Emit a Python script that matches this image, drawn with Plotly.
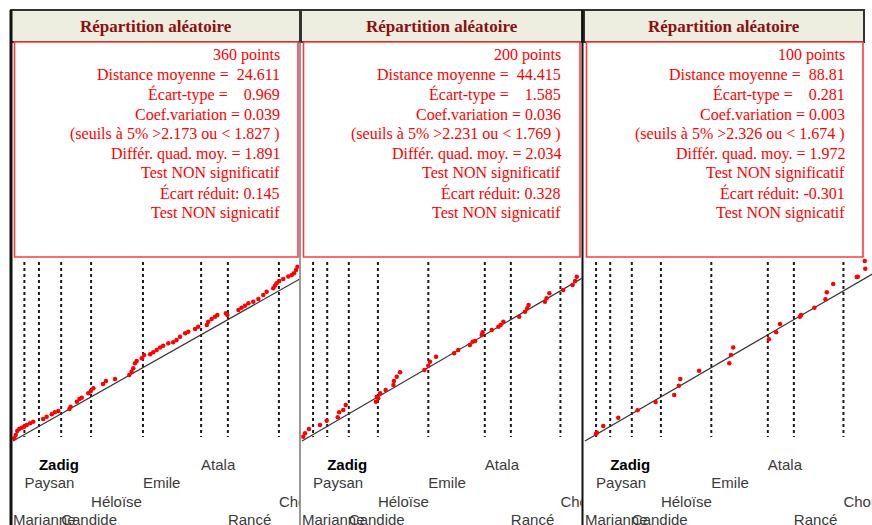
import plotly.graph_objects as go

# ---------------- data ----------------
TEXT_NAMES = ["Marianne", "Paysan", "Zadig", "Candide", "Héloïse", "Emile", "Atala", "Rancé", "Chouans"]
TEXT_STARTS = [0.0, 4.0, 9.1, 16.9, 27.4, 45.6, 66.0, 75.4, 93.3]   # % of corpus
TEXT_ROWS = [4, 2, 1, 4, 3, 2, 1, 4, 3]
TEXT_BOLD = [False, False, True, False, False, False, False, False, False]

TITLE = "Répartition aléatoire"

STATS_1 = ["360 points", "Distance moyenne =  24.611", "Écart-type =    0.969",
           "Coef.variation = 0.039", "(seuils à 5% >2.173 ou < 1.827 )",
           "Différ. quad. moy. = 1.891", "Test NON significatif",
           "Écart réduit: 0.145", "Test NON signicatif"]
STATS_2 = ["200 points", "Distance moyenne =  44.415", "Écart-type =    1.585",
           "Coef.variation = 0.036", "(seuils à 5% >2.231 ou < 1.769 )",
           "Différ. quad. moy. = 2.034", "Test NON significatif",
           "Écart réduit: 0.328", "Test NON signicatif"]
STATS_3 = ["100 points", "Distance moyenne =  88.81", "Écart-type =    0.281",
           "Coef.variation = 0.003", "(seuils à 5% >2.326 ou < 1.674 )",
           "Différ. quad. moy. = 1.972", "Test NON significatif",
           "Écart réduit: -0.301", "Test NON signicatif"]

# points: x = position in corpus (%), y = cumulated rank (%)
PTS1_X = [0.46, 0.95, 1.5, 2.2, 3.1, 3.9, 4.8, 6.0, 7.1, 10.6, 11.8, 13.6, 14.7, 15.9,
          19.8, 20.2, 22.4, 23.3, 24.1, 26.4, 27.3, 28.2, 31.6, 32.6, 35.8, 40.8, 41.6,
          42.2, 42.8, 43.4, 45.2, 46.0, 48.1, 49.2, 50.4, 51.6, 52.7, 54.5, 56.2, 57.4,
          58.6, 60.4, 61.5, 63.9, 65.0, 68.0, 68.5, 69.7, 70.9, 71.7, 74.7, 75.2, 79.1,
          80.2, 81.4, 82.6, 84.3, 86.1, 87.8, 89.0, 91.3, 91.9, 92.5, 93.4, 94.8, 96.6,
          97.8, 98.6, 99.3, 99.8]
PTS1_Y = [1.7, 3.7, 6.2, 7.5, 8.3, 8.9, 9.9, 11.0, 12.0, 13.7, 15.1, 16.6, 17.8, 18.6,
          19.9, 21.3, 24.4, 26.1, 26.9, 29.6, 31.1, 32.7, 35.4, 37.3, 38.5, 41.0, 43.0,
          45.2, 48.3, 49.7, 51.4, 53.4, 53.9, 55.1, 56.5, 58.0, 59.2, 60.7, 61.3, 62.7,
          64.8, 66.9, 67.9, 69.6, 71.0, 72.0, 74.1, 75.8, 77.2, 78.3, 79.3, 78.3, 81.4,
          82.8, 84.0, 85.5, 86.5, 88.2, 90.7, 92.7, 94.8, 96.5, 98.0, 99.4, 100.6, 102.1,
          103.1, 104.2, 106.2, 108.3]

PTS2_X = [0.47, 1.08, 2.5, 6.5, 8.9, 12.9, 13.4, 14.9, 15.8, 26.7, 27.0, 27.5, 28.2,
          30.2, 33.0, 33.2, 34.2, 35.4, 44.2, 45.6, 46.2, 48.4, 54.9, 56.4, 60.6, 61.6,
          62.5, 64.9, 65.2, 68.5, 70.9, 71.7, 72.7, 78.4, 80.5, 81.3, 81.8, 87.7, 88.3,
          89.3, 94.3, 97.7, 98.6, 99.2]
PTS2_Y = [2.7, 4.8, 7.5, 9.9, 12.6, 14.7, 17.8, 19.3, 22.4, 24.4, 27.5, 26.5, 29.6,
          31.7, 34.8, 37.3, 39.9, 42.7, 44.1, 46.8, 49.3, 52.4, 54.5, 56.5, 59.6, 61.7,
          62.1, 65.8, 67.5, 68.9, 71.0, 72.0, 74.1, 77.2, 80.3, 82.4, 84.5, 86.5, 88.6,
          91.7, 93.8, 96.9, 99.4, 102.0]

PTS3_X = [3.9, 4.3, 6.6, 12.0, 19.0, 25.5, 32.2, 33.9, 34.4, 41.2, 52.1, 52.7, 53.5,
          66.4, 69.0, 70.4, 77.6, 78.0, 82.8, 86.8, 87.3, 89.6, 98.1, 98.5, 101.2, 101.0]
PTS3_Y = [4.3, 5.2, 9.3, 14.5, 19.1, 24.2, 28.6, 34.3, 38.5, 43.7, 48.3, 53.4, 58.0,
          63.2, 67.5, 72.7, 77.2, 78.3, 82.8, 88.0, 92.4, 97.5, 101.9, 102.0, 107.0, 111.8]

EXPECTED_X = [0, 110]
EXPECTED_Y = [0, 110]

# ---------------- layout geometry (pixels) ----------------
W, H = 872, 525
Y0, HY = 441, 161          # pixel of y=0 and pixel height of 100 units
PLOT_TOP, PLOT_BOTTOM = 258, 525
DOT_TOP_PX, DOT_BOT_PX = 262, 437
ROW_FIRST_PX, ROW_STEP_PX = 466, 18.5

PANELS = [
    dict(x0=13, w=285, dom=(12, 299.5), head=(11, 300), box=(14.5, 298), tr=281,
         stats=STATS_1, px=PTS1_X, py=PTS1_Y),
    dict(x0=302, w=277, dom=(301, 581.5), head=(301, 582), box=(303.5, 580), tr=562,
         stats=STATS_2, px=PTS2_X, py=PTS2_Y),
    dict(x0=585, w=277, dom=(584, 872), head=(584, 864), box=(586.5, 863), tr=846,
         stats=STATS_3, px=PTS3_X, py=PTS3_Y),
]


def fx(p):
    return p / W


def fy(p):
    return 1 - p / H


def ydata(p):
    return (Y0 - p) / HY * 100


fig = go.Figure()
layout_axes = {}
shapes = []
annotations = []

for i, P in enumerate(PANELS):
    k = "" if i == 0 else str(i + 1)
    xr = [(P["dom"][0] - P["x0"]) / P["w"] * 100, (P["dom"][1] - P["x0"]) / P["w"] * 100]
    yr = [ydata(PLOT_BOTTOM), ydata(PLOT_TOP)]
    layout_axes["xaxis" + k] = dict(domain=[fx(P["dom"][0]), fx(P["dom"][1])], range=xr,
                                    visible=False, fixedrange=True, anchor="y" + k)
    layout_axes["yaxis" + k] = dict(domain=[fy(PLOT_BOTTOM), fy(PLOT_TOP)], range=yr,
                                    visible=False, fixedrange=True, anchor="x" + k)
    xa, ya = "x" + k, "y" + k

    # text boundaries (dotted)
    dx, dy = [], []
    for b in TEXT_STARTS[1:]:
        dx += [b, b, None]
        dy += [ydata(DOT_TOP_PX), ydata(DOT_BOT_PX), None]
    fig.add_trace(go.Scatter(x=dx, y=dy, mode="lines", xaxis=xa, yaxis=ya,
                             line=dict(color="#1a1a1a", width=2, dash="3px,3px"),
                             hoverinfo="skip", showlegend=False))
    # expected line
    fig.add_trace(go.Scatter(x=EXPECTED_X, y=EXPECTED_Y, mode="lines", xaxis=xa, yaxis=ya,
                             line=dict(color="#333333", width=1.2),
                             hoverinfo="skip", showlegend=False, cliponaxis=True))
    # observed points
    fig.add_trace(go.Scatter(x=P["px"], y=P["py"], mode="markers", xaxis=xa, yaxis=ya,
                             marker=dict(color="#FF0000", size=4.5, line=dict(width=0)),
                             showlegend=False, cliponaxis=True))
    # text names
    ty = [ydata(ROW_FIRST_PX + (r - 1) * ROW_STEP_PX) for r in TEXT_ROWS]
    tt = [("<b>%s</b>" % n) if b else n for n, b in zip(TEXT_NAMES, TEXT_BOLD)]
    tc = ["#000000" if b else "#3a3a3a" for b in TEXT_BOLD]
    fig.add_trace(go.Scatter(x=TEXT_STARTS, y=ty, mode="text", text=tt, xaxis=xa, yaxis=ya,
                             textposition="middle right",
                             textfont=dict(family="Liberation Sans, Arial", size=15, color=tc),
                             hoverinfo="skip", showlegend=False, cliponaxis=True))

    # header
    shapes.append(dict(type="rect", xref="paper", yref="paper",
                       x0=fx(P["head"][0]), x1=fx(P["head"][1]), y0=fy(42), y1=fy(10),
                       fillcolor="#EEEEE0", line=dict(color="#333333", width=2), layer="below"))
    annotations.append(dict(xref="paper", yref="paper", x=fx((P["head"][0] + P["head"][1]) / 2),
                            y=fy(26), text="<b>%s</b>" % TITLE, showarrow=False,
                            xanchor="center", yanchor="middle",
                            font=dict(family="Liberation Serif, Times New Roman", size=17,
                                      color="#8B1010")))
    # stats box
    shapes.append(dict(type="rect", xref="paper", yref="paper",
                       x0=fx(P["box"][0]), x1=fx(P["box"][1]), y0=fy(257), y1=fy(42),
                       fillcolor="white", line=dict(color="#FF3B3B", width=1.6), layer="below"))
    for j, s in enumerate(P["stats"]):
        txt = s.replace("<", "&lt;").replace(">", "&gt;").replace(" ", "\u00a0")
        annotations.append(dict(xref="paper", yref="paper", x=fx(P["tr"] + 1), y=fy(55 + 19.7 * j),
                                text=txt, showarrow=False, xanchor="right", yanchor="middle",
                                font=dict(family="Liberation Serif, Times New Roman", size=16,
                                          color="#FF0000")))

# separators
shapes.append(dict(type="line", xref="paper", yref="paper", x0=fx(11), x1=fx(11),
                   y0=fy(10), y1=fy(525), line=dict(color="#111111", width=3)))
shapes.append(dict(type="line", xref="paper", yref="paper", x0=fx(300), x1=fx(300),
                   y0=fy(42), y1=fy(525), line=dict(color="#777777", width=1.5)))
shapes.append(dict(type="line", xref="paper", yref="paper", x0=fx(582.5), x1=fx(582.5),
                   y0=fy(10), y1=fy(525), line=dict(color="#111111", width=2)))

fig.update_layout(width=W, height=H, autosize=False,
                  margin=dict(l=0, r=0, t=0, b=0, pad=0),
                  paper_bgcolor="white", plot_bgcolor="white",
                  shapes=shapes, annotations=annotations, showlegend=False,
                  **layout_axes)

fig.write_html("out.html", config={"displayModeBar": False},
               post_script="document.body.style.margin='0';document.body.style.overflow='hidden';")
